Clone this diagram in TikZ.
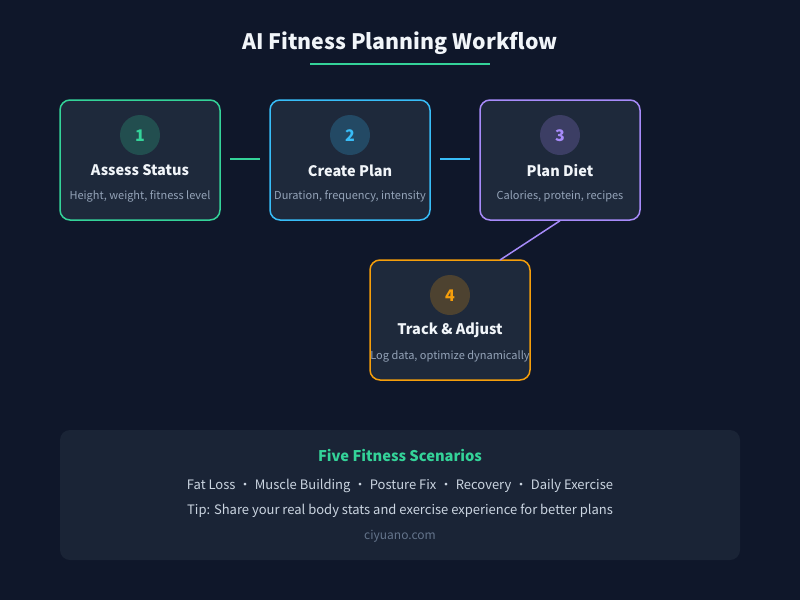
\documentclass[tikz,border=0pt]{standalone}
\usepackage{fontspec}
\setmainfont{Noto Sans CJK SC}
\definecolor{bg}{HTML}{0F172A}
\definecolor{card}{HTML}{1E293B}
\definecolor{panel}{HTML}{1A2436}
\definecolor{cgreen}{HTML}{34D399}
\definecolor{cblue}{HTML}{38BDF8}
\definecolor{cpurple}{HTML}{A78BFA}
\definecolor{corange}{HTML}{F59E0B}
\definecolor{ttl}{HTML}{F1F5F9}
\definecolor{sub}{HTML}{94A3B8}
\definecolor{body}{HTML}{CBD5E1}
\definecolor{foot}{HTML}{64748B}
\tikzset{
  card/.style={draw=#1, line width=1.5pt, fill=card, rounded corners=10pt, minimum width=160pt, minimum height=120pt, inner sep=0pt},
  numcirc/.style={circle, fill=#1, fill opacity=0.22, minimum size=40pt, inner sep=0pt},
  numtxt/.style={text=#1, font=\bfseries\fontsize{16}{19}\selectfont},
  cardtitle/.style={text=ttl, font=\bfseries\fontsize{14.5}{18}\selectfont},
  cardsub/.style={text=sub, font=\fontsize{11}{13}\selectfont},
  link/.style={draw=#1, line width=1.5pt},
}
\newcommand{\dotsep}{\hspace{3.2pt}·\hspace{3.2pt}}
\begin{document}
\begin{tikzpicture}[x=1pt,y=-1pt]
\useasboundingbox (0,0) rectangle (800,600);
\fill[bg] (0,0) rectangle (800,600);
% title
\node[text=ttl, font=\bfseries\fontsize{21.3}{26}\selectfont] (title) at (400,43.5) {AI Fitness Planning Workflow};
\coordinate (ul1) at (310,64);
\coordinate (ul2) at (490,64);
\draw[cgreen, line width=2pt] (ul1) -- (ul2);
% cards
\node[card=cgreen] (b1) at (140,160) {};
\node[card=cblue] (b2) at (350,160) {};
\node[card=cpurple] (b3) at (560,160) {};
\node[card=corange] (b4) at (450,320) {};
% circles
\node[numcirc=cgreen] (c1) at (140,135) {};
\node[numcirc=cblue] (c2) at (350,135) {};
\node[numcirc=cpurple] (c3) at (560,135) {};
\node[numcirc=corange] (c4) at (450,295) {};
\node[numtxt=cgreen] (n1) at (140,136) {1};
\node[numtxt=cblue] (n2) at (350,136) {2};
\node[numtxt=cpurple] (n3) at (560,136) {3};
\node[numtxt=corange] (n4) at (450,296) {4};
% titles
\node[cardtitle] (t1) at (140,170.5) {Assess Status};
\node[cardtitle] (t2) at (350,170.5) {Create Plan};
\node[cardtitle] (t3) at (560,170.5) {Plan Diet};
\node[cardtitle] (t4) at (450,330.5) {Track \& Adjust};
\node[cardsub] (s1) at (140,196.5) {Height, weight, fitness level};
\node[cardsub] (s2) at (350,196.5) {Duration, frequency, intensity};
\node[cardsub] (s3) at (560,196.5) {Calories, protein, recipes};
\node[cardsub] (s4) at (450,356.5) {Log data, optimize dynamically};
% connectors
\coordinate (a1) at (230,159);
\coordinate (a2) at (260,159);
\coordinate (a3) at (440,159);
\coordinate (a4) at (470,159);
\coordinate (d4) at (500,260);
\draw[link=cgreen] (a1) -- (a2);
\draw[link=cblue] (a3) -- (a4);
\draw[link=cpurple] (b3.south) -- (d4);
% bottom panel
\node[fill=panel, rounded corners=10pt, minimum width=680pt, minimum height=130pt, inner sep=0pt] (panel) at (400,495) {};
\node[text=cgreen, font=\bfseries\fontsize{14.7}{18}\selectfont] (ph) at (400,455) {Five Fitness Scenarios};
\node[text=body, font=\fontsize{13}{16}\selectfont] (pl1) at (400,486) {Fat Loss\dotsep Muscle Building\dotsep Posture Fix\dotsep Recovery\dotsep Daily Exercise};
\node[text=body, font=\fontsize{13}{16}\selectfont] (pl2) at (400,511) {Tip: Share your real body stats and exercise experience for better plans};
\node[text=foot, font=\fontsize{12}{14}\selectfont] (pl3) at (400,536.5) {ciyuano.com};
\end{tikzpicture}
\end{document}
